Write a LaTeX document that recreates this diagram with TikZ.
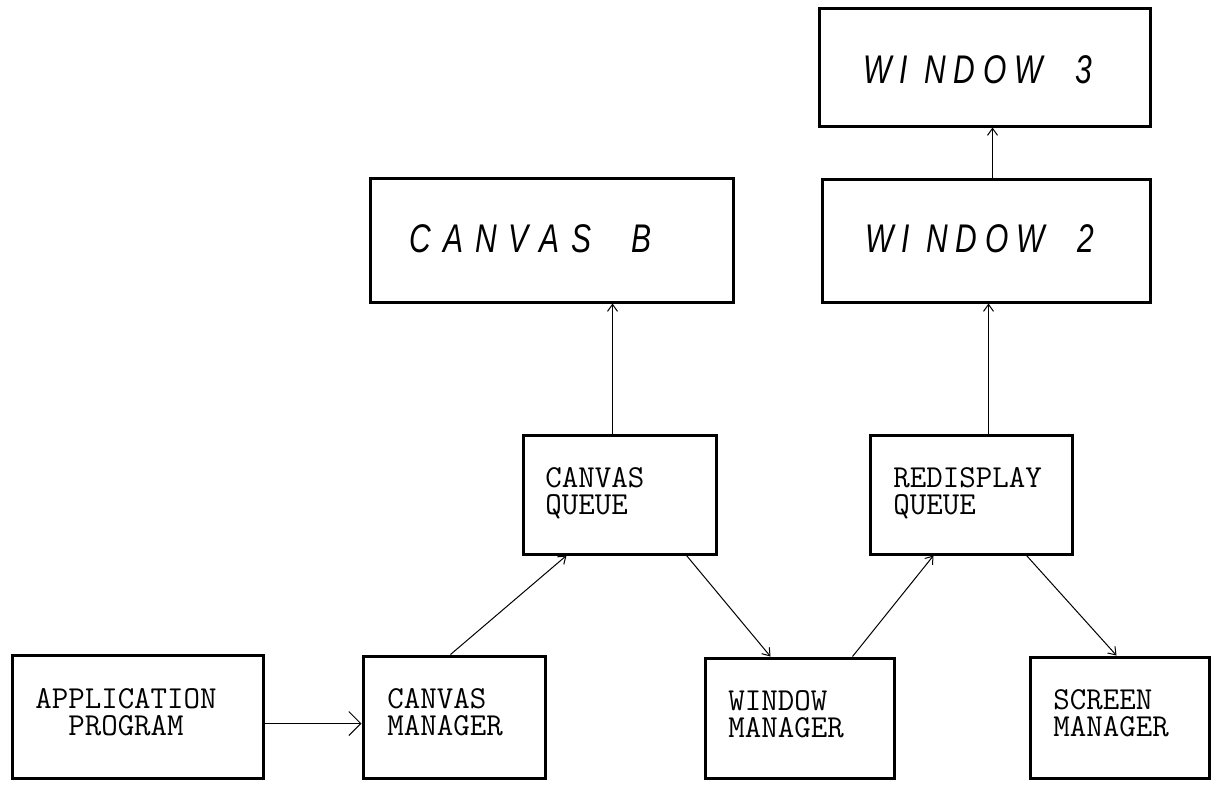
\documentclass[tikz,border=0pt]{standalone}
\usepackage{fontspec}
\usepackage{tikz}
\usetikzlibrary{arrows.meta, calc}
\newfontfamily\plotfont[LetterSpace=20, FakeStretch=0.75]{Liberation Sans}

\begin{document}
\begin{tikzpicture}[x=0.5pt, y=-0.5pt, >={Straight Barb[length=3.5pt, width=5pt]},
    box/.style={draw, line width=1.5pt, inner sep=0pt},
    lbl/.style={inner sep=0pt, align=left, font=\ttfamily\fontsize{16pt}{13.5pt}\selectfont},
    biglbl/.style={inner sep=0pt, font=\plotfont\itshape\fontsize{20pt}{24pt}\selectfont},
    link/.style={->, line width=0.5pt}]
  \useasboundingbox (0,0) rectangle (1213,788);
  % boxes
  \node[box, minimum width=125.5pt, minimum height=61.5pt] (app) at (137.5,716.5) {};
  \node[box, minimum width=91pt, minimum height=61pt] (cm) at (454,717) {};
  \node[box, minimum width=94.5pt, minimum height=60pt] (wm) at (799.5,718) {};
  \node[box, minimum width=89.5pt, minimum height=60.5pt] (sm) at (1119.5,717.5) {};
  \node[box, minimum width=96.5pt, minimum height=59.5pt] (cq) at (619.5,494.5) {};
  \node[box, minimum width=101pt, minimum height=59.5pt] (rq) at (971,494.5) {};
  \node[box, minimum width=181.5pt, minimum height=62pt] (cb) at (551.5,240) {};
  \node[box, minimum width=164pt, minimum height=61.5pt] (w2) at (986,240.5) {};
  \node[box, minimum width=165.5pt, minimum height=59pt] (w3) at (984.5,67) {};
  % labels
  \node[lbl, align=center, anchor=north] (apptxt) at (126,688) {APPLICATION\\PROGRAM};
  \node[lbl, anchor=north west] (cmtxt) at (387,688) {CANVAS\\MANAGER};
  \node[lbl, anchor=north west] (wmtxt) at (728,690) {WINDOW\\MANAGER};
  \node[lbl, anchor=north west] (smtxt) at (1053,689) {SCREEN\\MANAGER};
  \node[lbl, anchor=north west] (cqtxt) at (545,467) {CANVAS\\QUEUE};
  \node[lbl, anchor=north west] (rqtxt) at (893,467) {REDISPLAY\\QUEUE};
  \node[biglbl, anchor=base west] (cbtxt) at (409,252) {\addfontfeature{LetterSpace=30}CANVAS\hspace{1em}B};
  \node[biglbl, anchor=base west] (w2txt) at (865,252) {WI\hspace{0.4em}NDOW\hspace{0.8em}2};
  \node[biglbl, anchor=base west] (w3txt) at (863,83) {WI\hspace{0.4em}NDOW\hspace{0.8em}3};
  % connectors
  \draw[link, >={Straight Barb[length=6pt, width=12pt]}] ($(app.north east)+(0,70)$) -- ($(cm.north west)+(0,69)$);
  \draw[link] ($(cm.north west)+(89,0)$) -- ($(cq.south west)+(45,0)$);
  \draw[link] ($(cq.south west)+(165,0)$) -- ($(wm.north west)+(67,0)$);
  \draw[link] ($(wm.north west)+(149,0)$) -- ($(rq.south west)+(65,0)$);
  \draw[link] ($(rq.south west)+(158,0)$) -- ($(sm.north west)+(88,0)$);
  \draw[link] ($(cq.north west)+(91,0)$) -- ($(cb.south west)+(244,0)$);
  \draw[link] ($(rq.north west)+(120,0)$) -- ($(w2.south west)+(168,0)$);
  \draw[link] ($(w2.north west)+(172,0)$) -- ($(w3.south west)+(175,0)$);
\end{tikzpicture}
\end{document}
